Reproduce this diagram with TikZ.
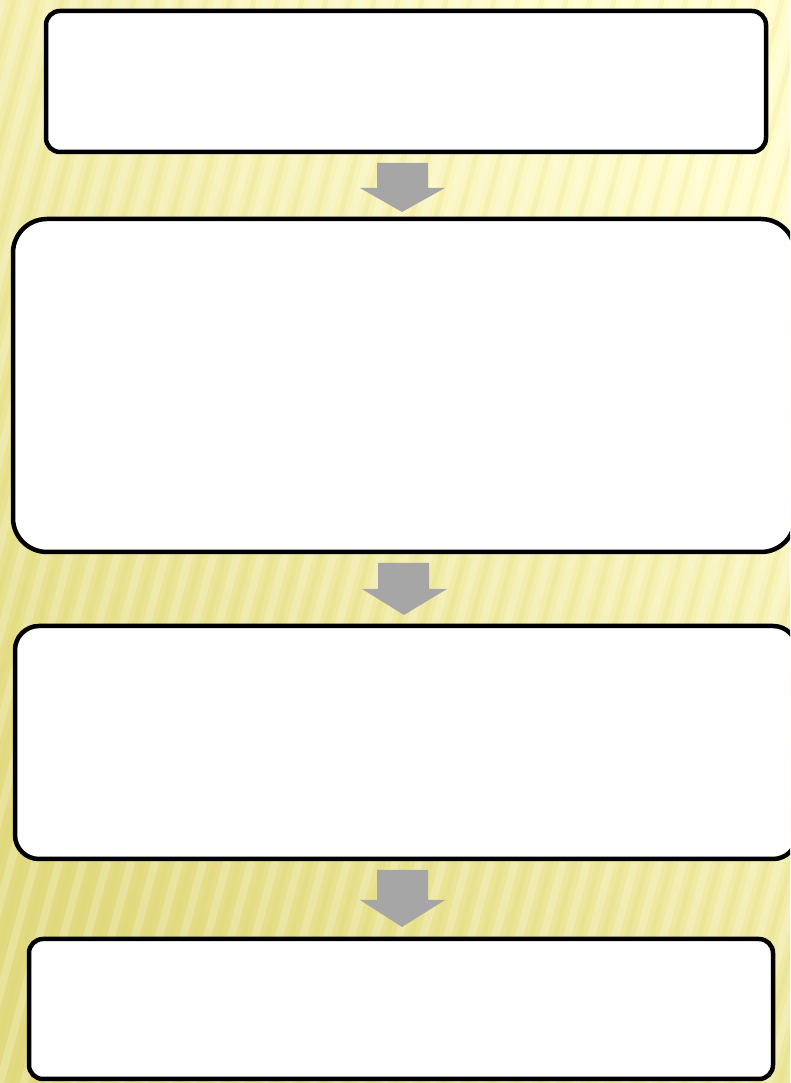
\documentclass[tikz,border=0pt]{standalone}
\usetikzlibrary{calc}
\definecolor{bgdark}{HTML}{E2DA80}
\definecolor{bglight}{HTML}{FFFCCB}
\definecolor{stripedark}{HTML}{D8CF6A}
\definecolor{arrowgray}{HTML}{A6A6A6}
\tikzset{
  flowbox/.style={draw=black, line width=4.5pt, fill=white, inner sep=0pt, outer sep=0pt},
  blockarrow/.style={fill=arrowgray, draw=none},
  lightstripe/.style={draw=white, opacity=0.22, line width=8pt},
  darkstripe/.style={draw=stripedark, opacity=0.14, line width=5pt}
}
\begin{document}
\begin{tikzpicture}[x=1pt,y=1pt]
\useasboundingbox (0,0) rectangle (790,1083);
\clip (0,0) rectangle (790,1083);
% background
\shade[top color=bgdark, bottom color=bglight, shading angle=135] (-10,-10) rectangle (800,1093);
\foreach \i in {-20,...,40} {
  \draw[lightstripe] (\i*24,0) -- ++(290,1083);
  \draw[darkstripe] (\i*24+12,0) -- ++(290,1083);
}
% boxes (pixel y converted: Y = 1083 - y)
\node[flowbox, rounded corners=14pt, minimum width=720pt, minimum height=141pt] (b1) at (406,1001.5) {};
\node[flowbox, rounded corners=34pt, minimum width=782pt, minimum height=333pt] (b2) at (404,697.5) {};
\node[flowbox, rounded corners=24pt, minimum width=782pt, minimum height=233pt] (b3) at (406,340.5) {};
\node[flowbox, rounded corners=14pt, minimum width=744pt, minimum height=140pt] (b4) at (401,74) {};
% block arrows between boxes
\fill[blockarrow] (377,920) -- (428,920) -- (428,895) -- (445,895) -- (402,871) -- (360,895) -- (377,895) -- cycle;
\fill[blockarrow] (378,520) -- (429,520) -- (429,494) -- (447,494) -- (404,468) -- (362,494) -- (378,494) -- cycle;
\fill[blockarrow] (377,213) -- (428,213) -- (428,183) -- (445,183) -- (402,156) -- (360,183) -- (377,183) -- cycle;
\end{tikzpicture}
\end{document}
